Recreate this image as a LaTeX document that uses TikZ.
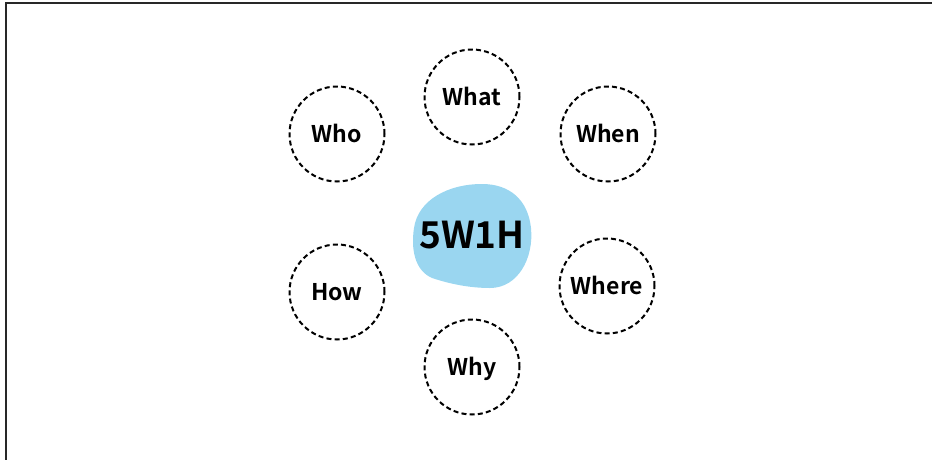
\documentclass[tikz,border=0pt]{standalone}
\usepackage{fontspec}
\setmainfont{Noto Sans CJK SC}[BoldFont={Noto Sans CJK SC Bold}]
\definecolor{blobblue}{RGB}{154,214,240}
\definecolor{framegray}{RGB}{40,40,40}
\begin{document}
\begin{tikzpicture}[x=1pt,y=-1pt,
  qcircle/.style={circle,draw=black,dashed,dash pattern=on 5pt off 3.2pt,line width=2pt,minimum size=95pt,inner sep=0pt,text height=18pt,text depth=1pt,font=\bfseries\fontsize{23}{27}\selectfont},
  centertext/.style={inner sep=0pt,font=\bfseries\fontsize{37}{42}\selectfont}]
\useasboundingbox (0,0) rectangle (932,459);
\draw[framegray,line width=2pt] (5.5,460) -- (5.5,2.5) -- (933,2.5);
% blob
\fill[blobblue] (482,184) .. controls (510,184) and (528,200) .. (531,228)
  .. controls (534,258) and (518,288) .. (490,288)
  .. controls (470,288) and (450,284) .. (432,278)
  .. controls (414,270) and (411,248) .. (414,228)
  .. controls (418,200) and (448,184) .. (482,184) -- cycle;
\node[centertext] (c) at (472,235) {5W1H};
\node[qcircle] (what) at (472,97) {What};
\node[qcircle] (who) at (337,134) {Who};
\node[qcircle] (when) at (608,134) {When};
\node[qcircle] (how) at (337,292) {How};
\node[qcircle] (where) at (607,286) {Where};
\node[qcircle] (why) at (472,367) {Why};
\end{tikzpicture}
\end{document}
